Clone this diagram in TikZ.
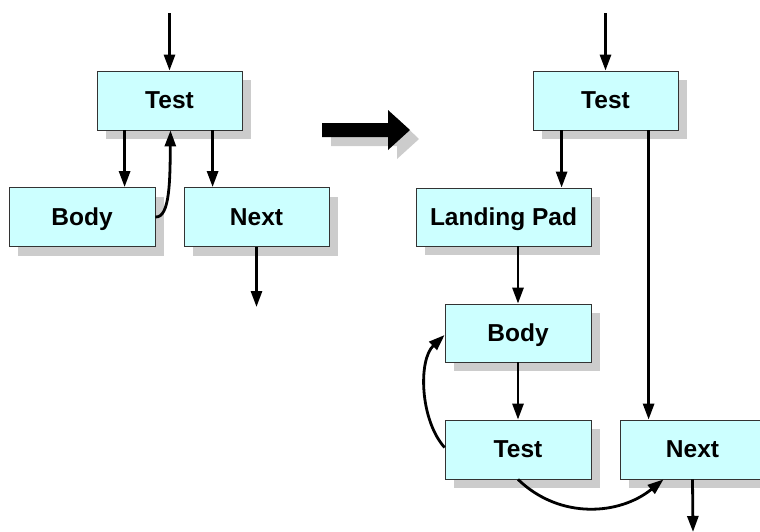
\documentclass[tikz,border=0pt]{standalone}
\usepackage{fontspec}
\setmainfont{Liberation Sans}
\usetikzlibrary{arrows.meta,shadows,calc}
\tikzset{
  blk/.style={draw=black!80, line width=0.8pt, fill={rgb,255:red,204;green,255;blue,255},
    minimum height=59pt, inner sep=0pt, font=\fontsize{24.5}{29}\selectfont\bfseries,
    text height=17.5pt, text depth=1.5pt,
    drop shadow={shadow xshift=9pt, shadow yshift=-9pt, fill=black!20, opacity=1}},
  arr/.style={line width=2.8pt, -{Triangle[length=16pt,width=11pt]}},
}
\begin{document}
\begin{tikzpicture}[x=1pt,y=-1pt]
\useasboundingbox (0,0) rectangle (760,531);
\clip (0,0) rectangle (760,531);
% left
\node[blk, minimum width=145pt] (t1) at (169.5,100.5) {Test};
\node[blk, minimum width=146pt] (b1) at (82,217) {Body};
\node[blk, minimum width=145pt] (n1) at (256.5,217) {Next};
\coordinate (in1) at (169.5,13);
\coordinate (out1) at (256.5,307);
\draw[arr] (in1) -- (t1.north);
\draw[arr] ([xshift=28pt]t1.south west) -- ([xshift=28pt]t1.south west |- b1.north);
\draw[arr] ([xshift=116pt]t1.south west) -- ([xshift=116pt]t1.south west |- n1.north);
\draw[arr] (b1.east) .. controls (170,218) and (170,180) .. ([xshift=1pt]t1.south);
\draw[arr] (n1.south) -- (out1);
% big arrow
\fill[black!20] (331,131) -- (397,131) -- (397,118) -- (419,139) -- (397,159) -- (397,146) -- (331,146) -- cycle;
\node[inner sep=0pt] (big) at (366,130) {};
\fill[black] (322,123) -- (388,123) -- (388,110) -- (410,130) -- (388,150) -- (388,137) -- (322,137) -- cycle;
% right
\node[blk, minimum width=145pt] (t2) at (605.5,100.5) {Test};
\node[blk, minimum width=175pt, minimum height=58pt] (lp) at (503.5,217) {Landing Pad};
\node[blk, minimum width=146pt, minimum height=58pt] (b2) at (518,333) {Body};
\node[blk, minimum width=146pt] (t3) at (518,449.5) {Test};
\node[blk, minimum width=145pt] (n2) at (692.5,449.5) {Next};
\coordinate (in2) at (605.5,13);
\coordinate (out2) at (693,532);
\draw[arr] (in2) -- (t2.north);
\draw[arr] ([xshift=29pt]t2.south west) -- ([xshift=29pt]t2.south west |- lp.north);
\draw[arr] (lp.south -| b2.north) -- (b2.north);
\draw[arr] (b2.south) -- (t3.north);
\draw[arr] ([xshift=116pt]t2.south west) -- ([xshift=116pt]t2.south west |- n2.north);
\draw[arr] ([yshift=2pt]t3.west) .. controls (420,420) and (418,360) .. ([yshift=-2pt]b2.west);
\draw[arr] (t3.south) .. controls (560,520) and (620,515) .. ([xshift=-29pt]n2.south);
\draw[arr] (n2.south) -- (out2);
\end{tikzpicture}
\end{document}
